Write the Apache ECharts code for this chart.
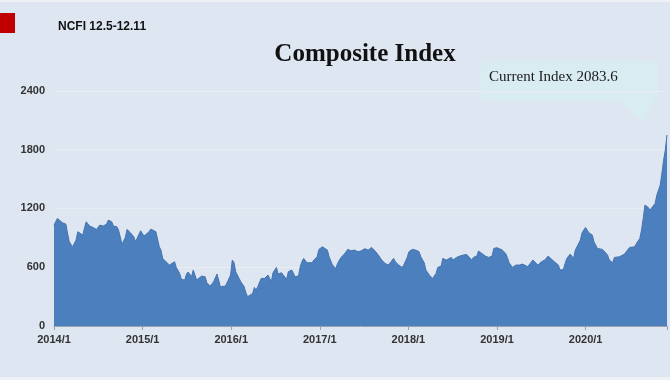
<!DOCTYPE html>
<html>
<head>
<meta charset="utf-8">
<script src="https://cdn.jsdelivr.net/npm/echarts@6/dist/echarts.min.js"></script>
<style>
html,body{margin:0;padding:0;background:#dee6f1;}
#chart{width:670px;height:380px;}
</style>
</head>
<body>
<div id="chart"></div>
<script>
// Week index since first week of Jan 2014
var weeks = [0,2,3,5,7,8,9,10,11,13,14,15,17,18,19,21,23,25,27,29,31,32,34,35,37,38,39,40,41,42,43,44,45,47,48,49,51,52,53,54,56,57,58,60,62,63,64,66,68,69,71,72,74,75,77,78,79,81,82,83,84,85,87,88,89,90,92,93,94,96,97,98,99,101,102,104,105,106,107,109,110,112,113,114,115,117,118,119,120,122,123,124,126,127,128,129,131,132,134,135,137,138,140,141,142,144,145,146,147,149,150,152,153,155,156,158,159,161,162,164,166,167,169,171,173,175,177,179,181,183,185,187,189,191,193,195,197,198,200,201,203,205,206,208,209,211,213,215,216,218,219,221,222,223,225,226,228,229,231,232,234,235,237,239,241,243,244,246,247,249,250,252,254,256,258,259,261,262,264,266,267,268,270,272,273,274,276,277,279,280,282,283,285,286,287,289,291,292,294,295,297,298,300,301,302,304,305,306,307,308,310,311,313,314,315,317,318,320,321,323,324,326,327,329,330,331,333,334,336,337,339,340,342,343,345,346,347,348,350,351,352,354,355,357,358,359,360,361];
var indexValues = [1030,1098,1081,1054,1040,945,860,833,809,877,962,945,928,1006,1064,1020,1006,986,1030,1020,1040,1081,1064,1020,1013,979,911,833,850,904,986,1006,952,911,860,877,972,962,918,938,962,989,993,962,809,775,690,656,622,622,656,598,537,476,469,530,551,503,571,588,469,452,510,530,503,442,408,418,452,530,510,401,418,408,418,520,673,649,554,486,452,401,340,299,282,333,394,367,401,486,503,486,520,503,452,544,598,530,544,520,476,554,571,554,503,510,605,656,690,646,639,646,673,707,782,809,802,775,707,622,588,639,700,734,782,768,775,758,768,789,775,802,768,724,673,639,622,646,690,656,622,598,622,700,758,782,775,758,707,646,571,520,503,486,537,598,612,690,673,666,700,673,700,714,724,731,714,673,700,714,765,741,714,700,714,792,799,782,775,741,700,646,598,622,632,622,632,612,605,622,673,656,622,639,656,673,714,700,666,656,622,571,578,639,690,734,714,690,775,809,877,952,1006,979,952,928,860,792,775,782,768,724,673,646,700,714,707,724,734,758,802,792,809,843,894,979,1098,1234,1210,1183,1200,1251,1336,1438,1557,1693,1795,1950];
var yearLabels = ['2014/1','2015/1','2016/1','2017/1','2018/1','2019/1','2020/1'];
var yTicks = [0,600,1200,1800,2400];

var chart = echarts.init(document.getElementById('chart'));
var seriesData = weeks.map(function(w,i){ return [2014 + w*7/365.25, indexValues[i]]; });
var xMax = 2014 + weeks[weeks.length-1]*7/365.25;

chart.setOption({
  backgroundColor: '#dee6f1',
  animation: false,
  title: {
    text: 'Composite Index',
    left: 360, top: 37, textAlign: 'center',
    textStyle: {fontFamily: 'Liberation Serif', fontWeight: 'bold', fontSize: 25, color: '#111'}
  },
  grid: {left: 54, right: 0, top: 90.9, bottom: 54},
  xAxis: {
    type: 'value', min: 2014, max: xMax, interval: 1,
    axisLine: {show: true, lineStyle: {color: '#9aa3ad', width: 1}},
    axisTick: {show: true, length: 4, lineStyle: {color: '#9aa3ad'}},
    splitLine: {show: false},
    axisLabel: {
      margin: 8, color: '#333', fontFamily: 'Liberation Sans', fontWeight: 'bold', fontSize: 11,
      formatter: function(v){ var k = Math.round(v) - 2014; return (Math.abs(v - Math.round(v)) < 1e-6 && yearLabels[k]) ? yearLabels[k] : ''; }
    }
  },
  yAxis: {
    type: 'value', min: yTicks[0], max: yTicks[yTicks.length-1], interval: 600,
    axisLine: {show: false}, axisTick: {show: false},
    splitLine: {show: true, lineStyle: {color: '#e9edf3', width: 1}},
    axisLabel: {margin: 9, color: '#333', fontFamily: 'Liberation Sans', fontWeight: 'bold', fontSize: 11,
      formatter: function(v){ return String(v); }}
  },
  series: [{
    type: 'line', data: seriesData, symbol: 'none', smooth: false,
    lineStyle: {color: '#4574b0', width: 1},
    areaStyle: {color: '#4c7fbd', opacity: 1}
  }],
  graphic: [
    {type: 'rect', shape: {x: 0, y: 0, width: 670, height: 2}, style: {fill: '#eef1f5'}},
    {type: 'rect', shape: {x: 0, y: 377, width: 670, height: 3}, style: {fill: '#eef1f5'}},
    {type: 'rect', shape: {x: 0, y: 13, width: 15, height: 20}, style: {fill: '#c00000'}},
    {type: 'text', x: 58, y: 27, style: {text: 'NCFI 12.5-12.11', fill: '#111', font: 'bold 12px "Liberation Sans"', textVerticalAlign: 'middle'}},
    {type: 'rect', shape: {x: 480, y: 61, width: 178, height: 40, r: 6}, style: {fill: '#d9ecf2'}},
    {type: 'polygon', shape: {points: [[618,100],[654,100],[643,122]]}, style: {fill: '#d9ecf2'}},
    {type: 'text', x: 489, y: 77, style: {text: 'Current Index 2083.6', fill: '#1a1a1a', font: '15px "Liberation Serif"', textVerticalAlign: 'middle'}}
  ]
});
</script>
</body>
</html>
